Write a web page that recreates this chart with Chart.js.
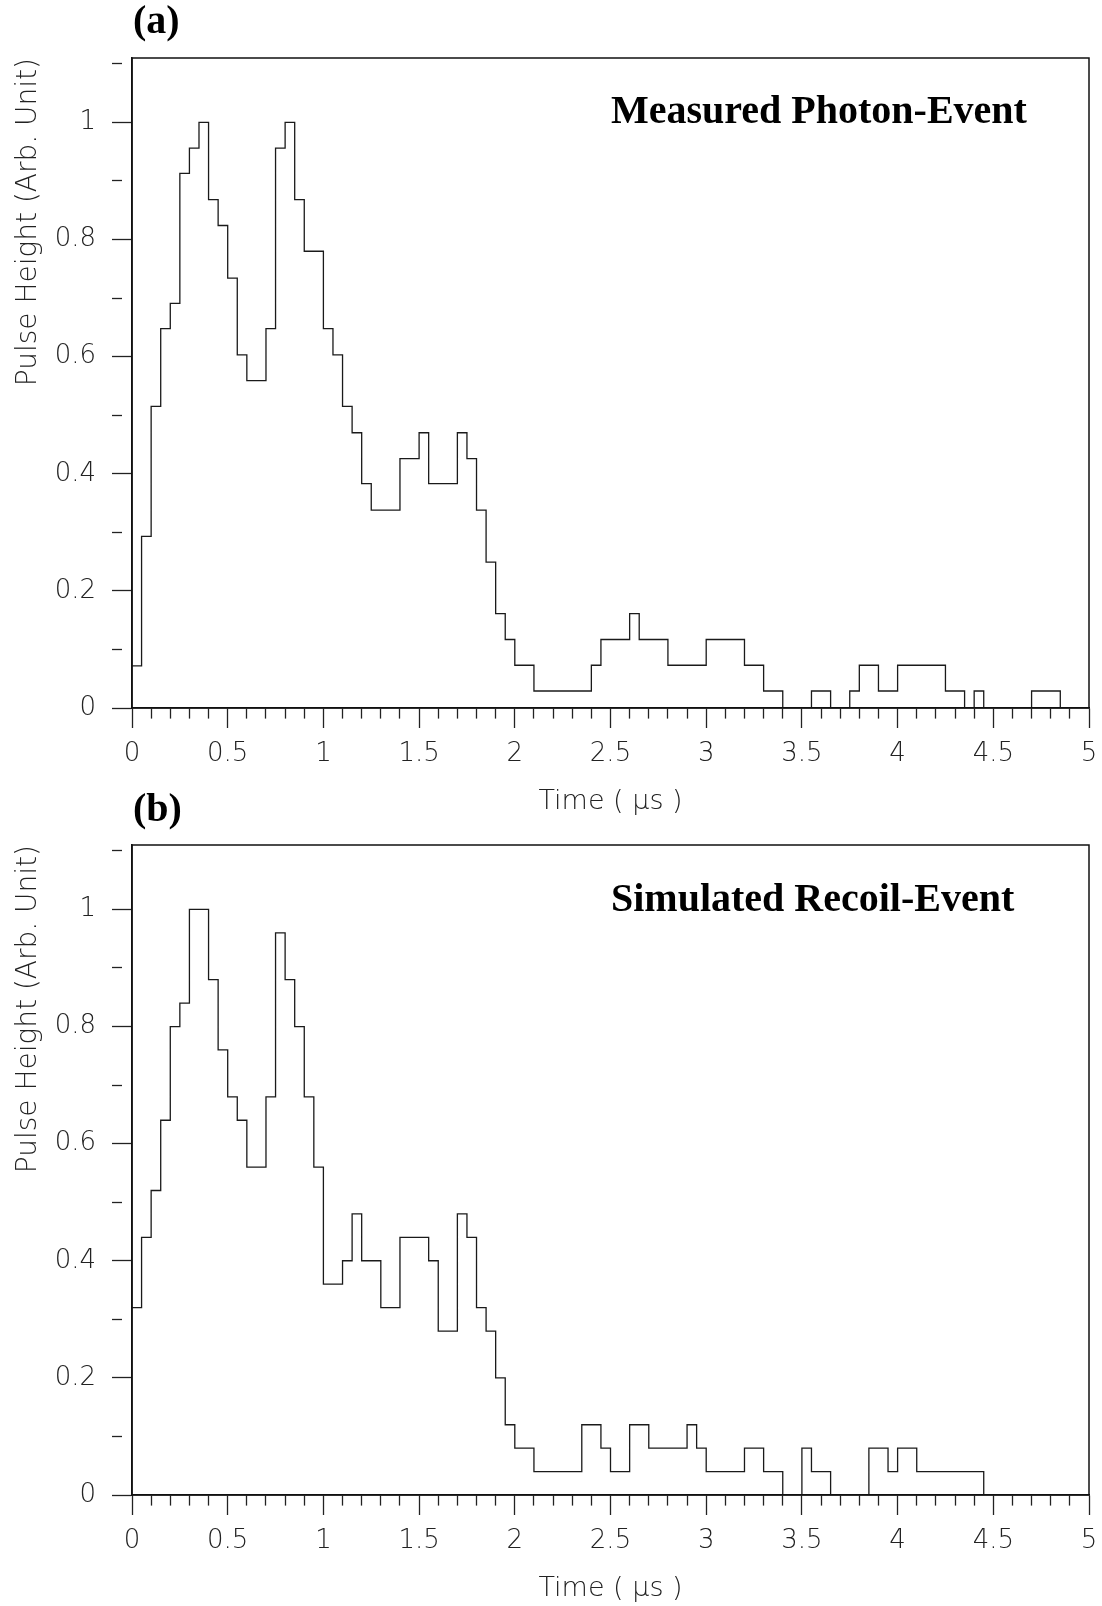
<!DOCTYPE html>
<html>
<head>
<meta charset="utf-8">
<title>Measured vs simulated pulse shape</title>
<script src="https://cdn.jsdelivr.net/npm/chart.js@4.4.0/dist/chart.umd.min.js"></script>
<style>
  html, body { margin: 0; padding: 0; background: #fff; }
  #page { position: relative; width: 1102px; height: 1606px; overflow: hidden; background: #fff; }
  .panel { position: absolute; left: 0; width: 1102px; height: 819px; }
  .panel canvas { display: block; }
  .tag { position: absolute; font-family: "Liberation Serif", "Times New Roman", serif; font-weight: bold;
         font-size: 40px; line-height: 40px; color: #000; white-space: nowrap; }
</style>
</head>
<body>
<div id="page">
  <div class="panel" style="top:0"><canvas id="chartA" width="1102" height="819"></canvas></div>
  <div class="panel" style="top:787px"><canvas id="chartB" width="1102" height="819"></canvas></div>
  <div class="tag" style="left:133px; top:0px">(a)</div>
  <div class="tag" style="left:611px; top:90px">Measured Photon-Event</div>
  <div class="tag" style="left:133px; top:788px">(b)</div>
  <div class="tag" style="left:611px; top:878px">Simulated Recoil-Event</div>
</div>

<script>
/* ============================ Data ============================ */
// 100 bins of 0.05 us from 0 to 5 us
const binWidth = 0.05;

const measuredBins = [
    0.072,0.293,0.515,0.648,0.691,0.913,0.956,1.0,0.868,0.824,
    0.734,0.603,0.559,0.559,0.648,0.956,1.0,0.868,0.78,0.78,
    0.648,0.603,0.515,0.47,0.383,0.338,0.338,0.338,0.426,0.426,
    0.47,0.383,0.383,0.383,0.47,0.426,0.338,0.249,0.161,0.117,
    0.073,0.073,0.029,0.029,0.029,0.029,0.029,0.029,0.073,0.117,
    0.117,0.117,0.161,0.117,0.117,0.117,0.073,0.073,0.073,0.073,
    0.117,0.117,0.117,0.117,0.073,0.073,0.029,0.029,0,0,
    0,0.029,0.029,0,0,0.029,0.073,0.073,0.029,0.029,
    0.073,0.073,0.073,0.073,0.073,0.029,0.029,0,0.029,0,
    0,0,0,0,0.029,0.029,0.029,0,0,0
];

const simulatedBins = [
    0.32,0.44,0.52,0.64,0.80,0.84,1.0,1.0,0.88,0.76,
    0.68,0.64,0.56,0.56,0.68,0.96,0.88,0.80,0.68,0.56,
    0.36,0.36,0.40,0.48,0.40,0.40,0.32,0.32,0.44,0.44,
    0.44,0.40,0.28,0.28,0.48,0.44,0.32,0.28,0.20,0.12,
    0.08,0.08,0.04,0.04,0.04,0.04,0.04,0.12,0.12,0.08,
    0.04,0.04,0.12,0.12,0.08,0.08,0.08,0.08,0.12,0.08,
    0.04,0.04,0.04,0.04,0.08,0.08,0.04,0.04,0,0,
    0.08,0.04,0.04,0,0,0,0,0.08,0.08,0.04,
    0.08,0.08,0.04,0.04,0.04,0.04,0.04,0.04,0.04,0,
    0,0,0,0,0,0,0,0,0,0
];

const xTickLabels = [0, 0.5, 1, 1.5, 2, 2.5, 3, 3.5, 4, 4.5, 5];
const yTickLabels = [0, 0.2, 0.4, 0.6, 0.8, 1];
const xTitle = "Time ( \u03bcs )";
const yTitle = "Pulse Height (Arb. Unit)";

/* ============================ Utils ============================ */
function isLabelled(list, v) {
    return list.some(t => Math.abs(t - v) < 1e-6);
}
function toSteps(bins) {
    const pts = bins.map((v, i) => ({x: i * binWidth, y: v}));
    pts.push({x: bins.length * binWidth, y: bins[bins.length - 1]});
    return pts;
}
function tickDash(list) {
    return ctx => (ctx.tick && isLabelled(list, ctx.tick.value)) ? [] : [10, 100];
}

const textFont = {family: "'DejaVu Sans', sans-serif", weight: 200};

// frame around the plot area (top and right edges)
const framePlugin = {
    id: "frame",
    afterDraw(chart) {
        const {ctx, chartArea: a} = chart;
        ctx.save();
        ctx.strokeStyle = "#111";
        ctx.lineWidth = 1.5;
        ctx.strokeRect(a.left, a.top, a.right - a.left, a.bottom - a.top);
        ctx.restore();
    }
};

/* ============================ Chart ============================ */
function makeChart(id, bins) {
    const ctx = document.getElementById(id).getContext("2d");
    return new Chart(ctx, {
        type: "line",
        data: {
            datasets: [{
                data: toSteps(bins),
                stepped: true,
                borderColor: "#1a1a1a",
                borderWidth: 1.3,
                pointRadius: 0,
                fill: false
            }]
        },
        options: {
            responsive: false,
            animation: false,
            events: [],
            layout: {padding: {top: 58, right: 13, left: 0, bottom: 0}},
            plugins: {legend: {display: false}, tooltip: {enabled: false}},
            scales: {
                x: {
                    type: "linear", min: 0, max: 5,
                    afterFit: s => { s.height = 111; s.paddingLeft = 0; s.paddingRight = 0; },
                    border: {display: true, color: "#111", width: 1.6},
                    grid: {drawOnChartArea: false, drawTicks: true, tickLength: 20,
                           tickColor: "#222", tickWidth: 1.3, tickBorderDash: tickDash(xTickLabels)},
                    ticks: {
                        stepSize: 0.1, autoSkip: false, maxRotation: 0, padding: 11,
                        color: "#222", font: {...textFont, size: 26},
                        callback: v => isLabelled(xTickLabels, v) ? String(Math.round(v * 10) / 10) : ""
                    },
                    title: {display: true, text: xTitle, color: "#222",
                            font: {...textFont, size: 27}, padding: {top: 0, bottom: 1}}
                },
                y: {
                    type: "linear", min: 0, max: 1.11,
                    afterFit: s => { s.width = 132; s.paddingTop = 0; s.paddingBottom = 0; },
                    border: {display: true, color: "#111", width: 1.6},
                    grid: {drawOnChartArea: false, drawTicks: true, tickLength: 20,
                           tickColor: "#222", tickWidth: 1.3, tickBorderDash: tickDash(yTickLabels)},
                    ticks: {
                        stepSize: 0.05, includeBounds: false, padding: 16,
                        color: "#222", font: {...textFont, size: 26},
                        callback: v => isLabelled(yTickLabels, v) ? String(Math.round(v * 10) / 10) : ""
                    },
                    title: {display: true, text: yTitle, align: "end", color: "#222",
                            font: {...textFont, size: 28}, padding: {top: 12, bottom: 0}}
                }
            }
        },
        plugins: [framePlugin]
    });
}

/* ============================ Init ============================ */
makeChart("chartA", measuredBins);
makeChart("chartB", simulatedBins);
</script>
</body>
</html>
